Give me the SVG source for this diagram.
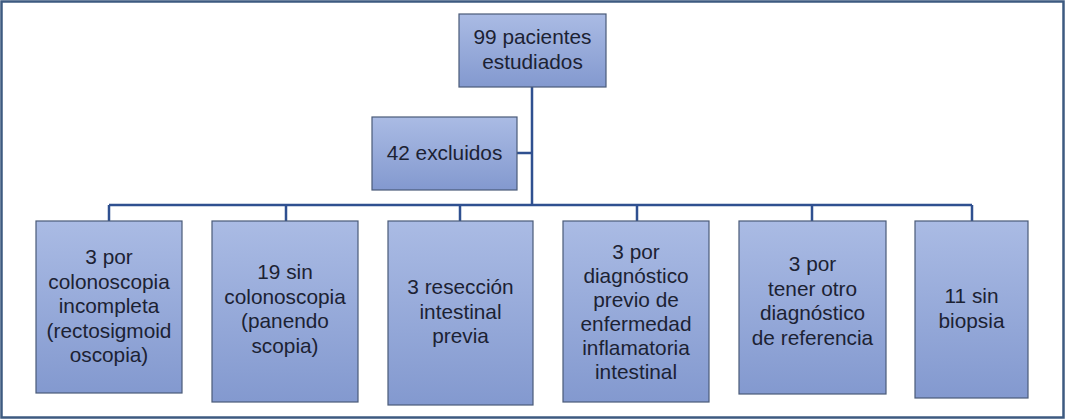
<svg xmlns="http://www.w3.org/2000/svg" width="1065" height="420" viewBox="0 0 1065 420">
<defs>
<linearGradient id="g" x1="0" y1="0" x2="0" y2="1">
<stop offset="0" stop-color="#aabbe4"/>
<stop offset="1" stop-color="#8399cf"/>
</linearGradient>
<style>
.b{fill:url(#g);stroke:#4a5a78;stroke-width:1.2}
.t{font-family:"Liberation Sans",Arial,sans-serif;font-size:20.8px;fill:#1c2233;text-anchor:middle}
.c{stroke:#2f5090;stroke-width:2.5;fill:none}
</style>
</defs>
<rect x="1.5" y="1.5" width="1062" height="416" fill="#ffffff" stroke="#3d5a80" stroke-width="2.5"/>
<g id="connectors">
<path class="c" d="M532,87 V205 M517,153 H532 M109,205 H972 M109,205 V221 M286,205 V221 M460,205 V221 M637,205 V221 M812,205 V221 M972,205 V221"/>
</g>
<g id="n0"><rect class="b" x="459" y="14" width="147" height="73"/>
<text class="t" x="532.5" y="44">99 pacientes</text><text class="t" x="532.5" y="68.5">estudiados</text></g>
<g id="n1"><rect class="b" x="372" y="117" width="145" height="73"/>
<text class="t" x="444.5" y="160">42 excluidos</text></g>
<g id="n2"><rect class="b" x="36" y="221" width="146" height="172"/>
<text class="t" x="109" y="264">3 por</text><text class="t" x="109" y="288.5">colonoscopia</text><text class="t" x="109" y="313">incompleta</text><text class="t" x="109" y="337.5">(rectosigmoid</text><text class="t" x="109" y="362">oscopia)</text></g>
<g id="n3"><rect class="b" x="212" y="221" width="146" height="181"/>
<text class="t" x="285" y="279">19 sin</text><text class="t" x="285" y="303.5">colonoscopia</text><text class="t" x="285" y="328">(panendo</text><text class="t" x="285" y="352.5">scopia)</text></g>
<g id="n4"><rect class="b" x="388" y="221" width="145" height="184"/>
<text class="t" x="460.5" y="294">3 resección</text><text class="t" x="460.5" y="318.5">intestinal</text><text class="t" x="460.5" y="343">previa</text></g>
<g id="n5"><rect class="b" x="563" y="221" width="146" height="181"/>
<text class="t" x="636" y="259">3 por</text><text class="t" x="636" y="283">diagnóstico</text><text class="t" x="636" y="307">previo de</text><text class="t" x="636" y="331">enfermedad</text><text class="t" x="636" y="355">inflamatoria</text><text class="t" x="636" y="379">intestinal</text></g>
<g id="n6"><rect class="b" x="739" y="221" width="147" height="173"/>
<text class="t" x="812.5" y="271">3 por</text><text class="t" x="812.5" y="295.5">tener otro</text><text class="t" x="812.5" y="320">diagnóstico</text><text class="t" x="812.5" y="344.5">de referencia</text></g>
<g id="n7"><rect class="b" x="915" y="221" width="113" height="177"/>
<text class="t" x="971.5" y="303">11 sin</text><text class="t" x="971.5" y="327.5">biopsia</text></g>
</svg>
